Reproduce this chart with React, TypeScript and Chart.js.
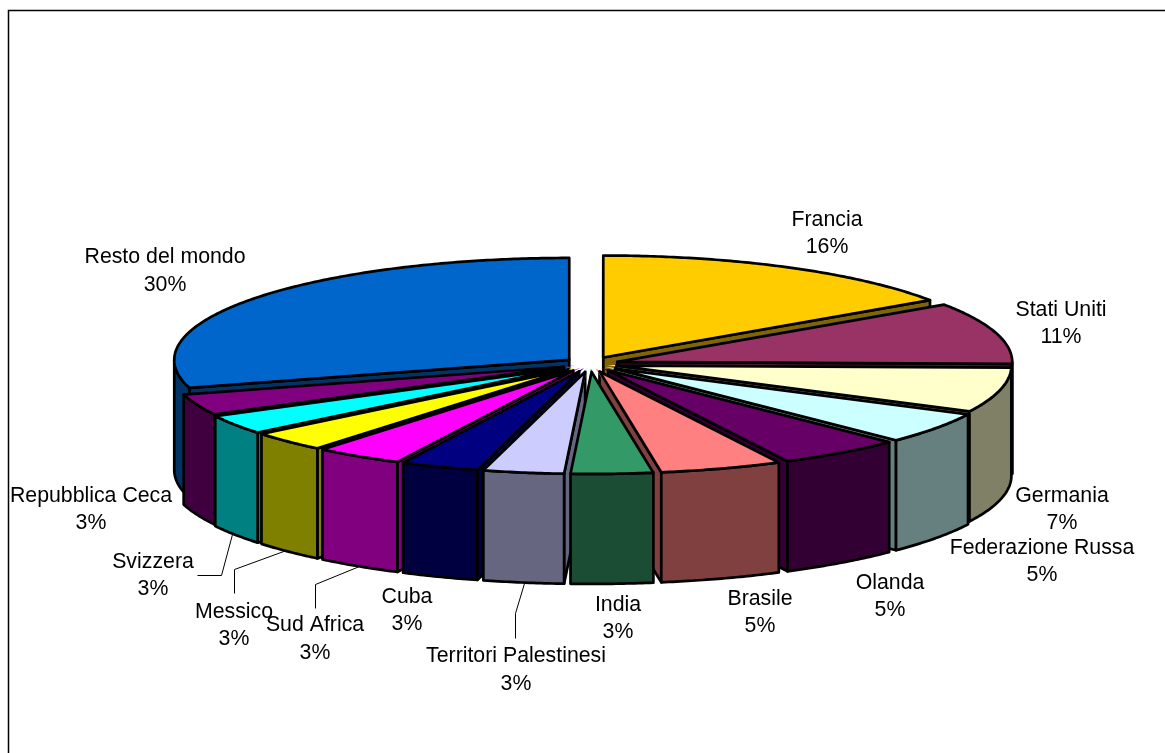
import React, { useEffect, useRef } from "react";
import { Chart, registerables } from "chart.js";

Chart.register(...registerables);

const categories = [
  "Francia", "Stati Uniti", "Germania", "Federazione Russa", "Olanda", "Brasile", "India",
  "Territori Palestinesi", "Cuba", "Sud Africa", "Messico", "Svizzera", "Repubblica Ceca", "Resto del mondo",
];
// Printed percentages.
const percentLabels = [16, 11, 7, 5, 5, 5, 3, 3, 3, 3, 3, 3, 3, 30];
// Shares as the slices are actually drawn in the picture (its perspective skews them a little).
const sliceShares = [15.5, 9.8, 7.1, 5.0, 5.1, 5.0, 3.35, 3.3, 3.2, 3.6, 3.2, 3.1, 3.35, 29.4];
const topColors = [
  "#FFCC00", "#993366", "#FFFFCC", "#CCFFFF", "#660066", "#FF8080", "#339966",
  "#CCCCFF", "#000080", "#FF00FF", "#FFFF00", "#00FFFF", "#800080", "#0066CC",
];
const explosion = [24, 24, 23, 26, 26, 26, 26, 26, 26, 26, 26, 26, 24, 22];

// Layout of the text labels: [centre x, first line y, second line y]
const labelLayout: number[][] = [
  [827, 220, 247], [1061, 310, 337], [1062, 496, 523], [1042, 548, 575], [890, 583, 610],
  [760, 599, 626], [618, 605, 632], [516, 656, 684], [407, 597, 624], [315, 625, 653],
  [234, 612, 639], [153, 562, 589], [91, 496, 523], [165, 257, 285],
];
const leaderLines: number[][][] = [
  [[197, 575], [221, 575], [232, 534]],
  [[234, 593], [234, 569], [286, 550]],
  [[315, 608], [315, 584], [359, 566]],
  [[515, 638], [515, 613], [524, 583]],
];

const W = 1165, H = 753;
const CX = 590, CY = 364, RX = 395, RY = 102, DEPTH = 110;
const FONT = '21.3px "Liberation Sans", Arial, sans-serif';

const darken = (hex: string) => {
  const n = parseInt(hex.slice(1), 16);
  const h = (v: number) => Math.round(v / 2);
  return `rgb(${h((n >> 16) & 255)},${h((n >> 8) & 255)},${h(n & 255)})`;
};

type Pt = [number, number];

function sliceGeom(el: any, i: number) {
  const R = el.outerRadius;
  const sx = RX / R, sy = RY / R;
  const half = (el.startAngle + el.endAngle) / 2;
  const t = explosion[i];
  const ox = Math.cos(half) * t, oy = Math.sin(half) * t;
  const at = (a: number, r: number): Pt => [
    CX + sx * (r * Math.cos(a) + ox),
    CY + sy * (r * Math.sin(a) + oy),
  ];
  return { R, sx, sy, half, at, start: el.startAngle, end: el.endAngle };
}

function arcPts(g: any, a0: number, a1: number): Pt[] {
  const n = Math.max(2, Math.ceil(Math.abs(a1 - a0) / 0.01));
  const out: Pt[] = [];
  for (let k = 0; k <= n; k++) out.push(g.at(a0 + ((a1 - a0) * k) / n, g.R));
  return out;
}

function poly(ctx: CanvasRenderingContext2D, pts: Pt[], fill: string | null) {
  ctx.beginPath();
  pts.forEach((p, k) => (k ? ctx.lineTo(p[0], p[1]) : ctx.moveTo(p[0], p[1])));
  ctx.closePath();
  if (fill) {
    ctx.fillStyle = fill;
    ctx.fill();
  }
  ctx.strokeStyle = "#000";
  ctx.lineWidth = 2.7;
  ctx.lineJoin = "round";
  ctx.stroke();
}

const drop = (pts: Pt[]): Pt[] => pts.map((p) => [p[0], p[1] + DEPTH] as Pt);

const pie3d = {
  id: "pie3d",
  beforeDatasetsDraw(chart: any) {
    const ctx: CanvasRenderingContext2D = chart.ctx;
    const arcs = chart.getDatasetMeta(0).data as any[];

    // frame
    ctx.save();
    ctx.strokeStyle = "#000";
    ctx.lineWidth = 1.5;
    ctx.beginPath();
    ctx.moveTo(8.5, H);
    ctx.lineTo(8.5, 10.5);
    ctx.lineTo(W, 10.5);
    ctx.stroke();
    ctx.restore();

    // walls, back to front
    const order = arcs
      .map((_, i) => i)
      .sort((a, b) => {
        const ga = sliceGeom(arcs[a], a), gb = sliceGeom(arcs[b], b);
        return Math.sin(ga.half) - Math.sin(gb.half);
      });
    for (const i of order) {
      const g = sliceGeom(arcs[i], i);
      const side = darken(topColors[i]);
      const apex = g.at(0, 0);
      const face = (a: number) => {
        const rim = g.at(a, g.R);
        poly(ctx, [apex, rim, [rim[0], rim[1] + DEPTH], [apex[0], apex[1] + DEPTH]], side);
      };
      // canvas angle: cos(a) > 0 is the right half of the pie
      if (Math.cos(g.end) > 0) face(g.end);
      if (Math.cos(g.start) < 0) face(g.start);
      const a0 = Math.max(g.start, 0), a1 = Math.min(g.end, Math.PI);
      if (a1 > a0) {
        const top = arcPts(g, a0, a1);
        poly(ctx, [...top, ...drop(top).reverse()], side);
      }
    }

    // top faces: drawn by the library, squashed to an ellipse
    const el = arcs[0];
    const g0 = sliceGeom(el, 0);
    ctx.save();
    ctx.translate(CX, CY);
    ctx.scale(g0.sx, g0.sy);
    ctx.translate(-el.x, -el.y);
  },
  afterDatasetsDraw(chart: any) {
    const ctx: CanvasRenderingContext2D = chart.ctx;
    ctx.restore();
    const arcs = chart.getDatasetMeta(0).data as any[];

    arcs.forEach((el, i) => {
      const g = sliceGeom(el, i);
      poly(ctx, [g.at(0, 0), ...arcPts(g, g.start, g.end)], null);
    });

    ctx.save();
    ctx.strokeStyle = "#000";
    ctx.lineWidth = 1;
    for (const line of leaderLines) {
      ctx.beginPath();
      line.forEach((p, k) => (k ? ctx.lineTo(p[0] + 0.5, p[1] + 0.5) : ctx.moveTo(p[0] + 0.5, p[1] + 0.5)));
      ctx.stroke();
    }
    ctx.font = FONT;
    ctx.fillStyle = "#000";
    ctx.textAlign = "center";
    ctx.textBaseline = "middle";
    categories.forEach((name, i) => {
      const [x, y1, y2] = labelLayout[i];
      ctx.fillText(name, x, y1);
      ctx.fillText(`${percentLabels[i]}%`, x, y2);
    });
    ctx.restore();
  },
};

export default function App() {
  const ref = useRef<HTMLCanvasElement>(null);
  useEffect(() => {
    const chart = new Chart(ref.current!, {
      type: "pie",
      data: {
        labels: categories,
        datasets: [
          {
            data: sliceShares,
            backgroundColor: topColors,
            borderWidth: 0,
            clip: false as any,
            hoverOffset: 0,
            // Chart.js moves a slice by offset/4 * (2 - sin(sweep))
            offset: (c: any) => {
              const sweep = (sliceShares[c.dataIndex] / 100) * 2 * Math.PI;
              return (4 * explosion[c.dataIndex]) / (2 - Math.sin(Math.min(Math.PI, sweep)));
            },
          } as any,
        ],
      },
      options: {
        responsive: false,
        animation: false,
        events: [],
        plugins: { legend: { display: false }, tooltip: { enabled: false } },
      },
      plugins: [pie3d as any],
    });
    return () => chart.destroy();
  }, []);
  return (
    <div style={{ position: "fixed", left: 0, top: 0, width: W, height: H, overflow: "hidden", background: "#fff" }}>
      <canvas ref={ref} width={W} height={H} style={{ display: "block" }} />
    </div>
  );
}
